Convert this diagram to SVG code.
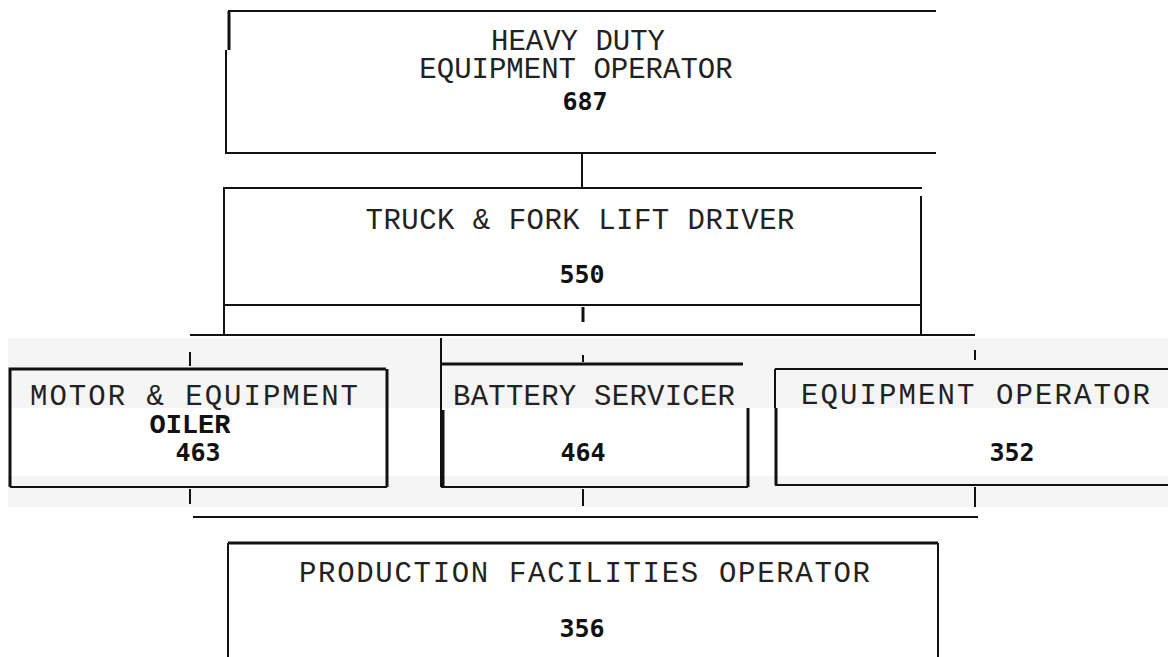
<svg xmlns="http://www.w3.org/2000/svg" width="1168" height="657" viewBox="0 0 1168 657">
<style>
.ln{stroke:#111;stroke-width:2;fill:none}
.thk{stroke:#111;stroke-width:3;fill:none}
.tw{font-family:"Liberation Mono","Courier New",monospace;font-size:29px;fill:#222}
.twb{font-family:"Liberation Mono","Courier New",monospace;font-size:27px;font-weight:bold;fill:#111}
.num{font-family:"DejaVu Sans Mono","Liberation Mono",monospace;font-size:25px;font-weight:bold;fill:#111}
</style>
<rect width="1168" height="657" fill="#fff"/>
<rect x="8" y="338" width="1160" height="70" fill="#f5f5f5"/>
<rect x="8" y="476" width="1160" height="31" fill="#f5f5f5"/>
<g id="connectors">
<line class="ln" x1="582" y1="153" x2="582" y2="188"/>
<line class="ln" x1="224" y1="305" x2="224" y2="335"/>
<line class="ln" x1="921" y1="305" x2="921" y2="335"/>
<line class="thk" x1="583" y1="307" x2="583" y2="322"/>
<line class="ln" x1="190" y1="335" x2="975" y2="335"/>
<line class="ln" x1="190" y1="352" x2="190" y2="366"/>
<line class="ln" x1="583" y1="355" x2="583" y2="362"/>
<line class="ln" x1="975" y1="350" x2="975" y2="360"/>
<line class="ln" x1="190" y1="489" x2="190" y2="504"/>
<line class="ln" x1="583" y1="489" x2="583" y2="506"/>
<line class="ln" x1="975" y1="487" x2="975" y2="507"/>
<line class="ln" x1="193" y1="517" x2="978" y2="517"/>
</g>
<g id="node-687">
<polyline class="ln" points="228,11 936,11"/>
<line class="thk" x1="229" y1="11" x2="229" y2="50"/>
<polyline class="ln" points="226,50 226,153 936,153"/>
<text class="tw" x="578" y="50" text-anchor="middle">HEAVY DUTY</text>
<text class="tw" x="576" y="78" text-anchor="middle">EQUIPMENT OPERATOR</text>
<text class="num" x="585" y="110" text-anchor="middle">687</text>
</g>
<g id="node-550">
<polyline class="ln" points="224,305 224,188 922,188"/>
<line class="ln" x1="921" y1="196" x2="921" y2="305"/>
<line class="ln" x1="224" y1="305" x2="921" y2="305"/>
<text class="tw" x="580" y="229" text-anchor="middle" textLength="429" lengthAdjust="spacing">TRUCK &amp; FORK LIFT DRIVER</text>
<text class="num" x="582" y="283" text-anchor="middle">550</text>
</g>
<g id="node-463">
<polyline class="thk" points="10,487 10,369 386,369"/>
<line class="thk" x1="387" y1="369" x2="387" y2="487"/>
<line class="ln" x1="10" y1="487" x2="387" y2="487"/>
<text class="tw" x="30" y="405" textLength="328" lengthAdjust="spacing">MOTOR &amp; EQUIPMENT</text>
<text class="twb" x="190" y="433" text-anchor="middle">OILER</text>
<text class="num" x="198" y="461" text-anchor="middle">463</text>
</g>
<g id="node-464">
<line class="ln" x1="441" y1="338" x2="441" y2="487"/>
<line class="thk" x1="443" y1="410" x2="443" y2="487"/>
<line class="thk" x1="441" y1="364" x2="743" y2="364"/>
<line class="thk" x1="748" y1="408" x2="748" y2="487"/>
<line class="ln" x1="441" y1="487" x2="748" y2="487"/>
<text class="tw" x="453" y="405" textLength="282" lengthAdjust="spacing">BATTERY  SERVICER</text>
<text class="num" x="583" y="461" text-anchor="middle">464</text>
</g>
<g id="node-352">
<line class="ln" x1="775" y1="369" x2="1168" y2="369"/>
<line class="ln" x1="775" y1="369" x2="775" y2="408"/>
<line class="thk" x1="776" y1="408" x2="776" y2="485"/>
<line class="ln" x1="775" y1="485" x2="1168" y2="485"/>
<text class="tw" x="801" y="404" textLength="349" lengthAdjust="spacing">EQUIPMENT  OPERATOR</text>
<text class="num" x="1012" y="461" text-anchor="middle">352</text>
</g>
<g id="node-356">
<line class="thk" x1="228" y1="543" x2="938" y2="543"/>
<line class="ln" x1="228" y1="543" x2="228" y2="657"/>
<line class="ln" x1="938" y1="543" x2="938" y2="657"/>
<text class="tw" x="299" y="582" textLength="571" lengthAdjust="spacing">PRODUCTION  FACILITIES  OPERATOR</text>
<text class="num" x="582" y="637" text-anchor="middle">356</text>
</g>
</svg>
